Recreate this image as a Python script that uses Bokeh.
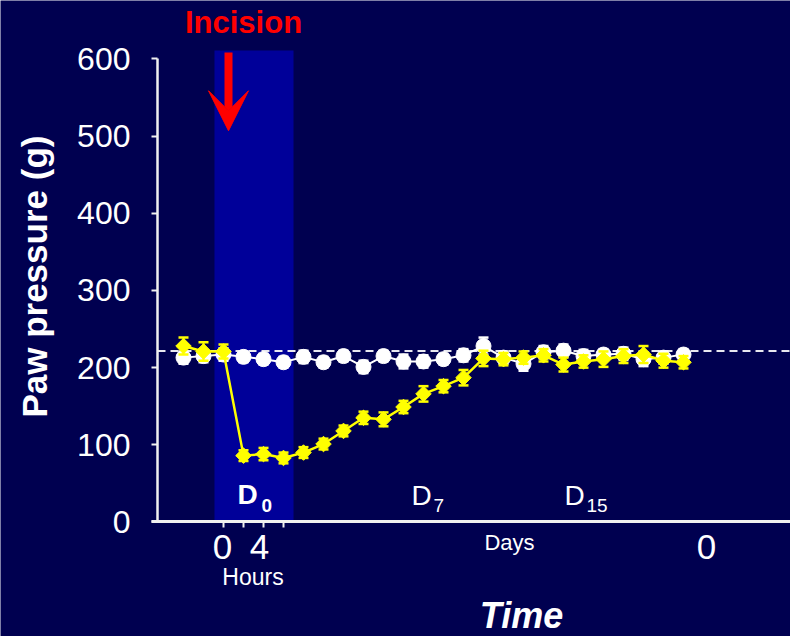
import math
from bokeh.plotting import figure
from bokeh.models import LinearAxis, FixedTicker, Arrow, VeeHead, ColumnDataSource, Range1d
from bokeh.core.properties import value
from bokeh.embed import file_html
from bokeh.resources import INLINE

# ---------------- data ----------------
time_index = list(range(26))
sham_g = [213, 215, 217, 214, 211, 207, 214, 207, 215, 201, 215, 208, 208,
          211, 216, 228, 213, 205, 220, 222, 215, 217, 218, 211, 213, 217]
sham_err = [8, 8, 8, 7, 7, 7, 8, 7, 7, 8, 7, 9, 8, 7, 8, 11, 8, 9, 8, 8, 8, 7, 8, 9, 8, 7]
incision_g = [228, 221, 221, 86, 88, 83, 90, 101, 118, 135, 133, 149, 166,
              176, 187, 212, 211, 213, 216, 204, 208, 211, 215, 217, 209, 207]
incision_err = [11, 12, 9, 7, 8, 7, 7, 7, 7, 8, 9, 8, 10, 8, 10, 10, 8, 8, 8, 9, 8, 10, 9, 11, 9, 8]
baseline_g = 221.5
y_ticks = [0, 100, 200, 300, 400, 500, 600]
hour_ticks = [2, 3, 4, 5]
hour_labels = ["0", "4"]
day_labels = ["D", "D"]
day_subs = ["7", "15"]

FONT = "Liberation Sans"
BG = "#000050"
BAND = "#000099"

p = figure(width=790, height=636, x_range=Range1d(-9.15, 30.35),
           y_range=Range1d(-148.4, 675.8), output_backend="svg",
           toolbar_location=None, x_axis_type=None, y_axis_type=None,
           min_border=0, min_border_left=0, min_border_right=0,
           min_border_top=0, min_border_bottom=0)
p.outline_line_color = None
p.background_fill_color = BG
p.border_fill_color = BG
p.grid.visible = False

# day-0 band
p.quad(left=[1.55], right=[5.5], bottom=[0], top=[611], fill_color=BAND, line_color=None)

# baseline dashed
p.line(x=[-1.3, 30.35], y=[baseline_g, baseline_g], line_color="#E8E8F0",
       line_width=2, line_dash="8 5")

def series(y, err, color, marker, size, lw, angle=0.0):
    lo = [a - b for a, b in zip(y, err)]
    hi = [a + b for a, b in zip(y, err)]
    src = ColumnDataSource(dict(x=time_index, y=y, lo=lo, hi=hi,
                                xl=[t - 0.25 for t in time_index],
                                xr=[t + 0.25 for t in time_index]))
    p.line("x", "y", source=src, line_color=color, line_width=lw)
    p.segment(x0="x", y0="lo", x1="x", y1="hi", source=src, line_color=color, line_width=2)
    p.segment(x0="xl", y0="hi", x1="xr", y1="hi", source=src, line_color=color, line_width=2.5)
    p.segment(x0="xl", y0="lo", x1="xr", y1="lo", source=src, line_color=color, line_width=2.5)
    p.scatter("x", "y", source=src, marker=marker, size=size, angle=angle,
              fill_color=color, line_color=color)

series(sham_g, sham_err, "#FFFFFF", "circle", 15, 2)
series(incision_g, incision_err, "#FFFF00", "square", 11, 2.5, angle=math.pi / 4)

# axes
yaxis = LinearAxis(fixed_location=-1.3, bounds=(0, 600), ticker=FixedTicker(ticks=y_ticks))
yaxis.axis_line_color = "#F0F0F0"
yaxis.axis_line_width = 2.5
yaxis.major_tick_line_color = "#F0F0F0"
yaxis.major_tick_line_width = 2
yaxis.major_tick_out = 6
yaxis.major_tick_in = 0
yaxis.minor_tick_out = 0
yaxis.minor_tick_in = 0
yaxis.major_label_text_color = "#FFFFFF"
yaxis.major_label_text_font = FONT
yaxis.major_label_text_font_size = "32px"
yaxis.major_label_standoff = 21
p.add_layout(yaxis, "left")

xaxis = LinearAxis(fixed_location=0, bounds=(-1.6, 30.35), ticker=FixedTicker(ticks=hour_ticks))
xaxis.axis_line_color = "#F0F0F0"
xaxis.axis_line_width = 3
xaxis.major_tick_line_color = "#F0F0F0"
xaxis.major_tick_line_width = 2
xaxis.major_tick_out = 6
xaxis.major_tick_in = 0
xaxis.minor_tick_out = 0
xaxis.minor_tick_in = 0
xaxis.major_label_text_color = None
p.add_layout(xaxis, "below")

def txt(x, y, t, size, style="normal", color="#FFFFFF", align="center", angle=0.0):
    p.text(x=x, y=y, text=t, angle=angle, text_font=value(FONT), text_font_size=size,
           text_font_style=style, text_color=color, text_align=align,
           text_baseline="middle")

# bottom labels
txt([1.95, 3.8], [-32.4, -32.4], hour_labels, "35px")
txt([26.15], [-33.0], ["0"], "35px")
txt([3.475], [-71.0], ["Hours"], "23px")
txt([16.3], [-27.0], ["Days"], "22px")
txt([16.9], [-121.5], ["Time"], "36px", style="bold italic")

# y title
txt([-7.45], [318], ["Paw pressure (g)"], "35px", style="bold", angle=math.pi / 2)

# day markers
txt([2.7], [35.6], ["D"], "28px", style="bold", align="left")
txt([3.9], [22.0], ["0"], "19px", style="bold", align="left")
txt([11.4, 19.05], [34.0, 34.0], day_labels, "28px", align="left")
txt([12.5, 20.15], [22.0, 22.0], day_subs, "19px", align="left")

# incision annotation
txt([3.0], [647.3], ["Incision"], "31px", style="bold", color="#FF0000")
p.add_layout(Arrow(end=VeeHead(size=40, fill_color="#FF0000", line_color="#FF0000"),
                   x_start=2.25, y_start=608.5, x_end=2.25, y_end=507,
                   line_color="#FF0000", line_width=8))

open("out.html", "w").write(file_html(p, INLINE))
